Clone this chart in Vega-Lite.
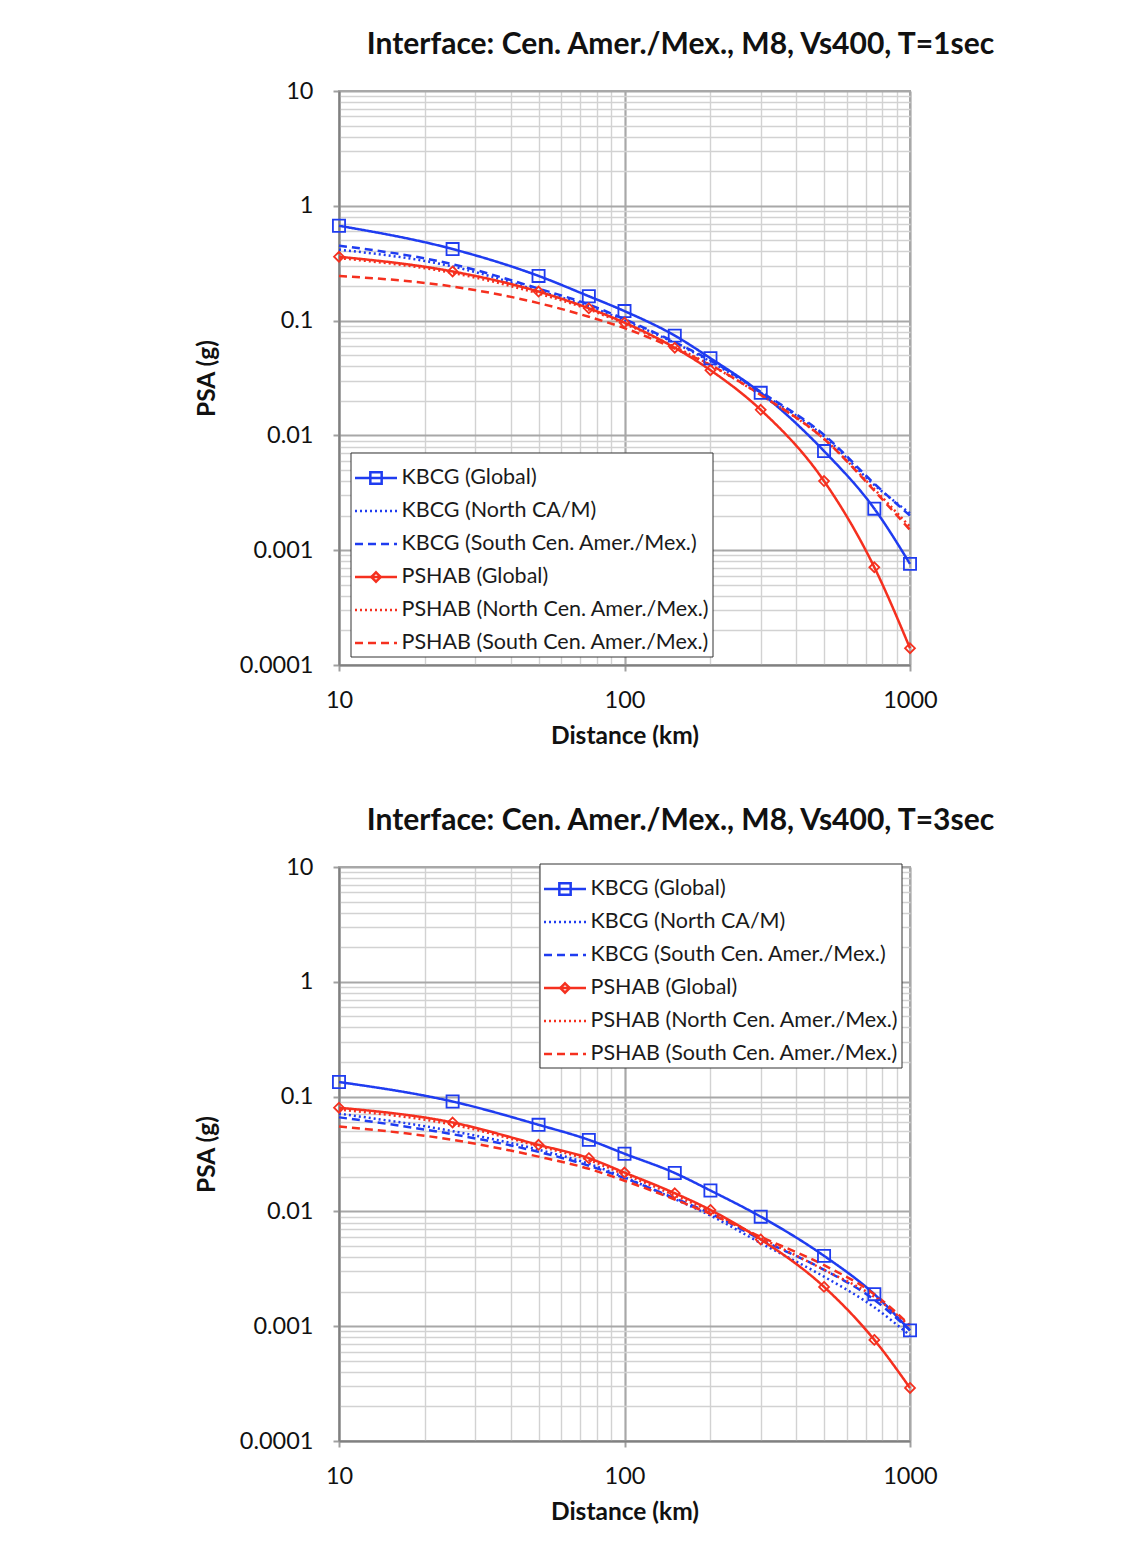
{
"$schema": "https://vega.github.io/schema/vega-lite/v6.json",
"background": "white",
"padding": {"left": 193, "top": 29, "right": 0, "bottom": 0},
"datasets": {
"t1": [
{"series":"KBCG (Global)","d":10,"psa":0.67},{"series":"KBCG (Global)","d":25,"psa":0.42},{"series":"KBCG (Global)","d":50,"psa":0.245},{"series":"KBCG (Global)","d":75,"psa":0.163},{"series":"KBCG (Global)","d":100,"psa":0.121},{"series":"KBCG (Global)","d":150,"psa":0.074},{"series":"KBCG (Global)","d":200,"psa":0.047},{"series":"KBCG (Global)","d":300,"psa":0.0235},{"series":"KBCG (Global)","d":500,"psa":0.0073},{"series":"KBCG (Global)","d":750,"psa":0.0023},{"series":"KBCG (Global)","d":1000,"psa":0.00076},
{"series":"KBCG (North CA/M)","d":10,"psa":0.415},{"series":"KBCG (North CA/M)","d":25,"psa":0.296},{"series":"KBCG (North CA/M)","d":50,"psa":0.182},{"series":"KBCG (North CA/M)","d":75,"psa":0.133},{"series":"KBCG (North CA/M)","d":100,"psa":0.1},{"series":"KBCG (North CA/M)","d":150,"psa":0.064},{"series":"KBCG (North CA/M)","d":200,"psa":0.044},{"series":"KBCG (North CA/M)","d":300,"psa":0.0235},{"series":"KBCG (North CA/M)","d":500,"psa":0.0098},{"series":"KBCG (North CA/M)","d":750,"psa":0.0037},{"series":"KBCG (North CA/M)","d":1000,"psa":0.0021},
{"series":"KBCG (South Cen. Amer./Mex.)","d":10,"psa":0.45},{"series":"KBCG (South Cen. Amer./Mex.)","d":25,"psa":0.31},{"series":"KBCG (South Cen. Amer./Mex.)","d":50,"psa":0.19},{"series":"KBCG (South Cen. Amer./Mex.)","d":75,"psa":0.138},{"series":"KBCG (South Cen. Amer./Mex.)","d":100,"psa":0.103},{"series":"KBCG (South Cen. Amer./Mex.)","d":150,"psa":0.065},{"series":"KBCG (South Cen. Amer./Mex.)","d":200,"psa":0.045},{"series":"KBCG (South Cen. Amer./Mex.)","d":300,"psa":0.024},{"series":"KBCG (South Cen. Amer./Mex.)","d":500,"psa":0.0101},{"series":"KBCG (South Cen. Amer./Mex.)","d":750,"psa":0.0038},{"series":"KBCG (South Cen. Amer./Mex.)","d":1000,"psa":0.002},
{"series":"PSHAB (Global)","d":10,"psa":0.36},{"series":"PSHAB (Global)","d":25,"psa":0.268},{"series":"PSHAB (Global)","d":50,"psa":0.179},{"series":"PSHAB (Global)","d":75,"psa":0.128},{"series":"PSHAB (Global)","d":100,"psa":0.096},{"series":"PSHAB (Global)","d":150,"psa":0.058},{"series":"PSHAB (Global)","d":200,"psa":0.037},{"series":"PSHAB (Global)","d":300,"psa":0.0167},{"series":"PSHAB (Global)","d":500,"psa":0.004},{"series":"PSHAB (Global)","d":750,"psa":0.00071},{"series":"PSHAB (Global)","d":1000,"psa":0.00014},
{"series":"PSHAB (North Cen. Amer./Mex.)","d":10,"psa":0.35},{"series":"PSHAB (North Cen. Amer./Mex.)","d":25,"psa":0.26},{"series":"PSHAB (North Cen. Amer./Mex.)","d":50,"psa":0.172},{"series":"PSHAB (North Cen. Amer./Mex.)","d":75,"psa":0.125},{"series":"PSHAB (North Cen. Amer./Mex.)","d":100,"psa":0.094},{"series":"PSHAB (North Cen. Amer./Mex.)","d":150,"psa":0.059},{"series":"PSHAB (North Cen. Amer./Mex.)","d":200,"psa":0.041},{"series":"PSHAB (North Cen. Amer./Mex.)","d":300,"psa":0.0225},{"series":"PSHAB (North Cen. Amer./Mex.)","d":500,"psa":0.0093},{"series":"PSHAB (North Cen. Amer./Mex.)","d":750,"psa":0.0034},{"series":"PSHAB (North Cen. Amer./Mex.)","d":1000,"psa":0.0016},
{"series":"PSHAB (South Cen. Amer./Mex.)","d":10,"psa":0.245},{"series":"PSHAB (South Cen. Amer./Mex.)","d":25,"psa":0.198},{"series":"PSHAB (South Cen. Amer./Mex.)","d":50,"psa":0.142},{"series":"PSHAB (South Cen. Amer./Mex.)","d":75,"psa":0.108},{"series":"PSHAB (South Cen. Amer./Mex.)","d":100,"psa":0.086},{"series":"PSHAB (South Cen. Amer./Mex.)","d":150,"psa":0.057},{"series":"PSHAB (South Cen. Amer./Mex.)","d":200,"psa":0.041},{"series":"PSHAB (South Cen. Amer./Mex.)","d":300,"psa":0.0225},{"series":"PSHAB (South Cen. Amer./Mex.)","d":500,"psa":0.0093},{"series":"PSHAB (South Cen. Amer./Mex.)","d":750,"psa":0.0033},{"series":"PSHAB (South Cen. Amer./Mex.)","d":1000,"psa":0.0015}
],
"t3": [
{"series":"KBCG (Global)","d":10,"psa":0.134},{"series":"KBCG (Global)","d":25,"psa":0.0906},{"series":"KBCG (Global)","d":50,"psa":0.0568},{"series":"KBCG (Global)","d":75,"psa":0.042},{"series":"KBCG (Global)","d":100,"psa":0.0318},{"series":"KBCG (Global)","d":150,"psa":0.0216},{"series":"KBCG (Global)","d":200,"psa":0.0152},{"series":"KBCG (Global)","d":300,"psa":0.009},{"series":"KBCG (Global)","d":500,"psa":0.0041},{"series":"KBCG (Global)","d":750,"psa":0.0019},{"series":"KBCG (Global)","d":1000,"psa":0.00092},
{"series":"KBCG (North CA/M)","d":10,"psa":0.071},{"series":"KBCG (North CA/M)","d":25,"psa":0.05},{"series":"KBCG (North CA/M)","d":50,"psa":0.0345},{"series":"KBCG (North CA/M)","d":75,"psa":0.026},{"series":"KBCG (North CA/M)","d":100,"psa":0.0198},{"series":"KBCG (North CA/M)","d":150,"psa":0.0128},{"series":"KBCG (North CA/M)","d":200,"psa":0.0092},{"series":"KBCG (North CA/M)","d":300,"psa":0.0053},{"series":"KBCG (North CA/M)","d":500,"psa":0.0027},{"series":"KBCG (North CA/M)","d":750,"psa":0.00146},{"series":"KBCG (North CA/M)","d":1000,"psa":0.00083},
{"series":"KBCG (South Cen. Amer./Mex.)","d":10,"psa":0.066},{"series":"KBCG (South Cen. Amer./Mex.)","d":25,"psa":0.047},{"series":"KBCG (South Cen. Amer./Mex.)","d":50,"psa":0.033},{"series":"KBCG (South Cen. Amer./Mex.)","d":75,"psa":0.025},{"series":"KBCG (South Cen. Amer./Mex.)","d":100,"psa":0.0195},{"series":"KBCG (South Cen. Amer./Mex.)","d":150,"psa":0.013},{"series":"KBCG (South Cen. Amer./Mex.)","d":200,"psa":0.0096},{"series":"KBCG (South Cen. Amer./Mex.)","d":300,"psa":0.0057},{"series":"KBCG (South Cen. Amer./Mex.)","d":500,"psa":0.0031},{"series":"KBCG (South Cen. Amer./Mex.)","d":750,"psa":0.0017},{"series":"KBCG (South Cen. Amer./Mex.)","d":1000,"psa":0.00092},
{"series":"PSHAB (Global)","d":10,"psa":0.08},{"series":"PSHAB (Global)","d":25,"psa":0.0595},{"series":"PSHAB (Global)","d":50,"psa":0.038},{"series":"PSHAB (Global)","d":75,"psa":0.0291},{"series":"PSHAB (Global)","d":100,"psa":0.0218},{"series":"PSHAB (Global)","d":150,"psa":0.0144},{"series":"PSHAB (Global)","d":200,"psa":0.0103},{"series":"PSHAB (Global)","d":300,"psa":0.0057},{"series":"PSHAB (Global)","d":500,"psa":0.0022},{"series":"PSHAB (Global)","d":750,"psa":0.00076},{"series":"PSHAB (Global)","d":1000,"psa":0.00029},
{"series":"PSHAB (North Cen. Amer./Mex.)","d":10,"psa":0.077},{"series":"PSHAB (North Cen. Amer./Mex.)","d":25,"psa":0.057},{"series":"PSHAB (North Cen. Amer./Mex.)","d":50,"psa":0.037},{"series":"PSHAB (North Cen. Amer./Mex.)","d":75,"psa":0.028},{"series":"PSHAB (North Cen. Amer./Mex.)","d":100,"psa":0.021},{"series":"PSHAB (North Cen. Amer./Mex.)","d":150,"psa":0.0138},{"series":"PSHAB (North Cen. Amer./Mex.)","d":200,"psa":0.01},{"series":"PSHAB (North Cen. Amer./Mex.)","d":300,"psa":0.0059},{"series":"PSHAB (North Cen. Amer./Mex.)","d":500,"psa":0.0031},{"series":"PSHAB (North Cen. Amer./Mex.)","d":750,"psa":0.0018},{"series":"PSHAB (North Cen. Amer./Mex.)","d":1000,"psa":0.001},
{"series":"PSHAB (South Cen. Amer./Mex.)","d":10,"psa":0.055},{"series":"PSHAB (South Cen. Amer./Mex.)","d":25,"psa":0.042},{"series":"PSHAB (South Cen. Amer./Mex.)","d":50,"psa":0.03},{"series":"PSHAB (South Cen. Amer./Mex.)","d":75,"psa":0.0235},{"series":"PSHAB (South Cen. Amer./Mex.)","d":100,"psa":0.0185},{"series":"PSHAB (South Cen. Amer./Mex.)","d":150,"psa":0.0127},{"series":"PSHAB (South Cen. Amer./Mex.)","d":200,"psa":0.0095},{"series":"PSHAB (South Cen. Amer./Mex.)","d":300,"psa":0.006},{"series":"PSHAB (South Cen. Amer./Mex.)","d":500,"psa":0.0034},{"series":"PSHAB (South Cen. Amer./Mex.)","d":750,"psa":0.0019},{"series":"PSHAB (South Cen. Amer./Mex.)","d":1000,"psa":0.00102}
]
},
"spacing": 56,
"resolve": {"scale": {"color": "independent", "strokeDash": "independent", "shape": "independent"}, "legend": {"color": "independent", "strokeDash": "independent", "shape": "independent"}},
"vconcat": [
{
"width": 571, "height": 574,
"title": {"text": "Interface: Cen. Amer./Mex., M8, Vs400, T=1sec"},
"data": {"name": "t1"},
"resolve": {"scale": {"shape": "independent"}, "legend": {"shape": "independent"}},
"layer": [
{"mark": {"type": "line", "interpolate": "monotone", "strokeWidth": 2.5},
 "encoding": {
  "x": {"field": "d", "type": "quantitative", "scale": {"type": "log", "domain": [10, 1000]},
   "axis": {"title": "Distance (km)", "values": [10,20,30,40,50,60,70,80,90,100,200,300,400,500,600,700,800,900,1000], "format": "~g", "labelExpr": "(datum.value==10||datum.value==100||datum.value==1000) ? datum.label : ''", "labelOverlap": false, "labelFlush": false, "labelPadding": 17, "titlePadding": 13,
    "gridColor": {"condition": {"test": "datum.value==10||datum.value==100||datum.value==1000", "value": "#a8a8a8"}, "value": "#d2d2d2"},
    "gridWidth": {"condition": {"test": "datum.value==10||datum.value==100||datum.value==1000", "value": 2.2}, "value": 1.4},
    "tickColor": {"condition": {"test": "datum.value==10||datum.value==100||datum.value==1000", "value": "#a0a0a0"}, "value": "transparent"}}},
  "y": {"field": "psa", "type": "quantitative", "scale": {"type": "log", "domain": [0.0001, 10]},
   "axis": {"title": "PSA (g)", "values": [0.0001,0.0002,0.0003,0.0004,0.0005,0.0006,0.0007,0.0008,0.0009,0.001,0.002,0.003,0.004,0.005,0.006,0.007,0.008,0.009,0.01,0.02,0.03,0.04,0.05,0.06,0.07,0.08,0.09,0.1,0.2,0.3,0.4,0.5,0.6,0.7,0.8,0.9,1,2,3,4,5,6,7,8,9,10], "format": "~g", "labelExpr": "abs(log(datum.value)/LN10 - round(log(datum.value)/LN10)) < 0.001 ? datum.label : ''", "labelOverlap": false, "labelFlush": false, "labelPadding": 20, "titlePadding": 20,
    "gridColor": {"condition": {"test": "abs(log(datum.value)/LN10 - round(log(datum.value)/LN10)) < 0.001", "value": "#a8a8a8"}, "value": "#d2d2d2"},
    "gridWidth": {"condition": {"test": "abs(log(datum.value)/LN10 - round(log(datum.value)/LN10)) < 0.001", "value": 2.2}, "value": 1.4},
    "tickColor": {"condition": {"test": "abs(log(datum.value)/LN10 - round(log(datum.value)/LN10)) < 0.001", "value": "#a0a0a0"}, "value": "transparent"}}},
  "color": {"field": "series", "type": "nominal", "scale": {"domain": ["KBCG (Global)","KBCG (North CA/M)","KBCG (South Cen. Amer./Mex.)","PSHAB (Global)","PSHAB (North Cen. Amer./Mex.)","PSHAB (South Cen. Amer./Mex.)"], "range": ["#1f3cf0","#1f3cf0","#1f3cf0","#f5301f","#f5301f","#f5301f"]},
   "legend": {"orient": "none", "legendX": 11.5, "legendY": 361.5, "zindex": 1, "title": null, "strokeColor": "#333", "fillColor": "#fff", "padding": 3, "symbolType": "stroke", "symbolSize": 1764, "symbolStrokeWidth": 2.5, "labelFont": "Lato", "labelFontSize": 21.5, "labelColor": "#1a1a1a", "labelOffset": 3, "rowPadding": 0, "labelLimit": 400}},
  "strokeDash": {"field": "series", "type": "nominal", "scale": {"domain": ["KBCG (Global)","KBCG (North CA/M)","KBCG (South Cen. Amer./Mex.)","PSHAB (Global)","PSHAB (North Cen. Amer./Mex.)","PSHAB (South Cen. Amer./Mex.)"], "range": [[1,0],[2,3],[8,5],[1,0],[2,3],[8,5]]},
   "legend": {"orient": "none", "legendX": 11.5, "legendY": 361.5, "zindex": 1, "title": null, "strokeColor": "#333", "fillColor": "#fff", "padding": 3, "symbolType": "stroke", "symbolSize": 1764, "symbolStrokeWidth": 2.5, "labelFont": "Lato", "labelFontSize": 21.5, "labelColor": "#1a1a1a", "labelOffset": 3, "rowPadding": 0, "labelLimit": 400}}
 }},
{"transform": [{"filter": "datum.series == 'KBCG (Global)'"}],
 "mark": {"type": "point", "filled": false, "color": "#1f3cf0", "size": 2025, "strokeWidth": 1.8, "opacity": 1},
 "encoding": {
  "x": {"field": "d", "type": "quantitative", "scale": {"type": "log", "domain": [10, 1000]}},
  "y": {"field": "psa", "type": "quantitative", "scale": {"type": "log", "domain": [0.0001, 10]}},
  "shape": {"field": "series", "type": "nominal", "scale": {"domain": ["KBCG (Global)","KBCG (North CA/M)","KBCG (South Cen. Amer./Mex.)","PSHAB (Global)","PSHAB (North Cen. Amer./Mex.)","PSHAB (South Cen. Amer./Mex.)","~"], "range": ["M-0.27,-0.27H0.27V0.27H-0.27Z","M0,0","M0,0","M0,0","M0,0","M0,0","M0,0"]},
   "legend": {"orient": "none", "legendX": 11.5, "legendY": 361.5, "zindex": 3, "title": null, "padding": 3, "values": ["KBCG (Global)","KBCG (North CA/M)","KBCG (South Cen. Amer./Mex.)","PSHAB (Global)","PSHAB (North Cen. Amer./Mex.)","PSHAB (South Cen. Amer./Mex.)"], "symbolSize": 1764, "symbolStrokeWidth": 2.5, "symbolStrokeColor": "#1f3cf0", "symbolFillColor": "transparent", "labelFont": "Lato", "labelFontSize": 21.5, "labelOpacity": 0, "labelOffset": 3, "rowPadding": 0, "labelLimit": 400}}
 }},
{"transform": [{"filter": "datum.series == 'PSHAB (Global)'"}],
 "mark": {"type": "point", "filled": false, "color": "#f5301f", "size": 2025, "strokeWidth": 1.8, "opacity": 1},
 "encoding": {
  "x": {"field": "d", "type": "quantitative", "scale": {"type": "log", "domain": [10, 1000]}},
  "y": {"field": "psa", "type": "quantitative", "scale": {"type": "log", "domain": [0.0001, 10]}},
  "shape": {"field": "series", "type": "nominal", "scale": {"domain": ["KBCG (Global)","KBCG (North CA/M)","KBCG (South Cen. Amer./Mex.)","PSHAB (Global)","PSHAB (North Cen. Amer./Mex.)","PSHAB (South Cen. Amer./Mex.)","~~"], "range": ["M0,0","M0,0","M0,0","M0,-0.22L0.22,0L0,0.22L-0.22,0Z","M0,0","M0,0","M0,0"]},
   "legend": {"orient": "none", "legendX": 11.5, "legendY": 361.5, "zindex": 3, "title": null, "padding": 3, "values": ["KBCG (Global)","KBCG (North CA/M)","KBCG (South Cen. Amer./Mex.)","PSHAB (Global)","PSHAB (North Cen. Amer./Mex.)","PSHAB (South Cen. Amer./Mex.)"], "symbolSize": 1764, "symbolStrokeWidth": 2.5, "symbolStrokeColor": "#f5301f", "symbolFillColor": "transparent", "labelFont": "Lato", "labelFontSize": 21.5, "labelOpacity": 0, "labelOffset": 3, "rowPadding": 0, "labelLimit": 400}}
 }}
]
},
{
"width": 571, "height": 574,
"title": {"text": "Interface: Cen. Amer./Mex., M8, Vs400, T=3sec"},
"data": {"name": "t3"},
"resolve": {"scale": {"shape": "independent"}, "legend": {"shape": "independent"}},
"layer": [
{"mark": {"type": "line", "interpolate": "monotone", "strokeWidth": 2.5},
 "encoding": {
  "x": {"field": "d", "type": "quantitative", "scale": {"type": "log", "domain": [10, 1000]},
   "axis": {"title": "Distance (km)", "values": [10,20,30,40,50,60,70,80,90,100,200,300,400,500,600,700,800,900,1000], "format": "~g", "labelExpr": "(datum.value==10||datum.value==100||datum.value==1000) ? datum.label : ''", "labelOverlap": false, "labelFlush": false, "labelPadding": 17, "titlePadding": 13,
    "gridColor": {"condition": {"test": "datum.value==10||datum.value==100||datum.value==1000", "value": "#a8a8a8"}, "value": "#d2d2d2"},
    "gridWidth": {"condition": {"test": "datum.value==10||datum.value==100||datum.value==1000", "value": 2.2}, "value": 1.4},
    "tickColor": {"condition": {"test": "datum.value==10||datum.value==100||datum.value==1000", "value": "#a0a0a0"}, "value": "transparent"}}},
  "y": {"field": "psa", "type": "quantitative", "scale": {"type": "log", "domain": [0.0001, 10]},
   "axis": {"title": "PSA (g)", "values": [0.0001,0.0002,0.0003,0.0004,0.0005,0.0006,0.0007,0.0008,0.0009,0.001,0.002,0.003,0.004,0.005,0.006,0.007,0.008,0.009,0.01,0.02,0.03,0.04,0.05,0.06,0.07,0.08,0.09,0.1,0.2,0.3,0.4,0.5,0.6,0.7,0.8,0.9,1,2,3,4,5,6,7,8,9,10], "format": "~g", "labelExpr": "abs(log(datum.value)/LN10 - round(log(datum.value)/LN10)) < 0.001 ? datum.label : ''", "labelOverlap": false, "labelFlush": false, "labelPadding": 20, "titlePadding": 20,
    "gridColor": {"condition": {"test": "abs(log(datum.value)/LN10 - round(log(datum.value)/LN10)) < 0.001", "value": "#a8a8a8"}, "value": "#d2d2d2"},
    "gridWidth": {"condition": {"test": "abs(log(datum.value)/LN10 - round(log(datum.value)/LN10)) < 0.001", "value": 2.2}, "value": 1.4},
    "tickColor": {"condition": {"test": "abs(log(datum.value)/LN10 - round(log(datum.value)/LN10)) < 0.001", "value": "#a0a0a0"}, "value": "transparent"}}},
  "color": {"field": "series", "type": "nominal", "scale": {"domain": ["KBCG (Global)","KBCG (North CA/M)","KBCG (South Cen. Amer./Mex.)","PSHAB (Global)","PSHAB (North Cen. Amer./Mex.)","PSHAB (South Cen. Amer./Mex.)"], "range": ["#1f3cf0","#1f3cf0","#1f3cf0","#f5301f","#f5301f","#f5301f"]},
   "legend": {"orient": "none", "legendX": 200.5, "legendY": -3.5, "zindex": 1, "title": null, "strokeColor": "#333", "fillColor": "#fff", "padding": 3, "symbolType": "stroke", "symbolSize": 1764, "symbolStrokeWidth": 2.5, "labelFont": "Lato", "labelFontSize": 21.5, "labelColor": "#1a1a1a", "labelOffset": 3, "rowPadding": 0, "labelLimit": 400}},
  "strokeDash": {"field": "series", "type": "nominal", "scale": {"domain": ["KBCG (Global)","KBCG (North CA/M)","KBCG (South Cen. Amer./Mex.)","PSHAB (Global)","PSHAB (North Cen. Amer./Mex.)","PSHAB (South Cen. Amer./Mex.)"], "range": [[1,0],[2,3],[8,5],[1,0],[2,3],[8,5]]},
   "legend": {"orient": "none", "legendX": 200.5, "legendY": -3.5, "zindex": 1, "title": null, "strokeColor": "#333", "fillColor": "#fff", "padding": 3, "symbolType": "stroke", "symbolSize": 1764, "symbolStrokeWidth": 2.5, "labelFont": "Lato", "labelFontSize": 21.5, "labelColor": "#1a1a1a", "labelOffset": 3, "rowPadding": 0, "labelLimit": 400}}
 }},
{"transform": [{"filter": "datum.series == 'KBCG (Global)'"}],
 "mark": {"type": "point", "filled": false, "color": "#1f3cf0", "size": 2025, "strokeWidth": 1.8, "opacity": 1},
 "encoding": {
  "x": {"field": "d", "type": "quantitative", "scale": {"type": "log", "domain": [10, 1000]}},
  "y": {"field": "psa", "type": "quantitative", "scale": {"type": "log", "domain": [0.0001, 10]}},
  "shape": {"field": "series", "type": "nominal", "scale": {"domain": ["KBCG (Global)","KBCG (North CA/M)","KBCG (South Cen. Amer./Mex.)","PSHAB (Global)","PSHAB (North Cen. Amer./Mex.)","PSHAB (South Cen. Amer./Mex.)","~"], "range": ["M-0.27,-0.27H0.27V0.27H-0.27Z","M0,0","M0,0","M0,0","M0,0","M0,0","M0,0"]},
   "legend": {"orient": "none", "legendX": 200.5, "legendY": -3.5, "zindex": 3, "title": null, "padding": 3, "values": ["KBCG (Global)","KBCG (North CA/M)","KBCG (South Cen. Amer./Mex.)","PSHAB (Global)","PSHAB (North Cen. Amer./Mex.)","PSHAB (South Cen. Amer./Mex.)"], "symbolSize": 1764, "symbolStrokeWidth": 2.5, "symbolStrokeColor": "#1f3cf0", "symbolFillColor": "transparent", "labelFont": "Lato", "labelFontSize": 21.5, "labelOpacity": 0, "labelOffset": 3, "rowPadding": 0, "labelLimit": 400}}
 }},
{"transform": [{"filter": "datum.series == 'PSHAB (Global)'"}],
 "mark": {"type": "point", "filled": false, "color": "#f5301f", "size": 2025, "strokeWidth": 1.8, "opacity": 1},
 "encoding": {
  "x": {"field": "d", "type": "quantitative", "scale": {"type": "log", "domain": [10, 1000]}},
  "y": {"field": "psa", "type": "quantitative", "scale": {"type": "log", "domain": [0.0001, 10]}},
  "shape": {"field": "series", "type": "nominal", "scale": {"domain": ["KBCG (Global)","KBCG (North CA/M)","KBCG (South Cen. Amer./Mex.)","PSHAB (Global)","PSHAB (North Cen. Amer./Mex.)","PSHAB (South Cen. Amer./Mex.)","~~"], "range": ["M0,0","M0,0","M0,0","M0,-0.22L0.22,0L0,0.22L-0.22,0Z","M0,0","M0,0","M0,0"]},
   "legend": {"orient": "none", "legendX": 200.5, "legendY": -3.5, "zindex": 3, "title": null, "padding": 3, "values": ["KBCG (Global)","KBCG (North CA/M)","KBCG (South Cen. Amer./Mex.)","PSHAB (Global)","PSHAB (North Cen. Amer./Mex.)","PSHAB (South Cen. Amer./Mex.)"], "symbolSize": 1764, "symbolStrokeWidth": 2.5, "symbolStrokeColor": "#f5301f", "symbolFillColor": "transparent", "labelFont": "Lato", "labelFontSize": 21.5, "labelOpacity": 0, "labelOffset": 3, "rowPadding": 0, "labelLimit": 400}}
 }}
]
}
],
"config": {
 "font": "Lato",
 "view": {"stroke": "#a8a8a8", "strokeWidth": 2},
 "title": {"font": "Lato", "fontSize": 30, "fontWeight": "bold", "color": "#111", "anchor": "middle", "frame": "group", "dx": 56, "offset": 19},
 "axis": {"labelFont": "Lato", "labelFontSize": 23.5, "labelColor": "#111", "titleFont": "Lato", "titleFontSize": 24.5, "titleFontWeight": "bold", "titleColor": "#111", "domainColor": "#808080", "domainWidth": 2, "tickSize": 6, "tickWidth": 2}
}
}
